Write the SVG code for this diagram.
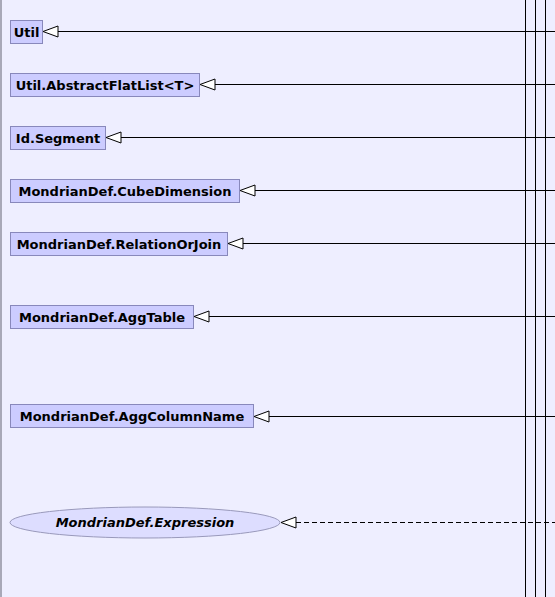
<svg xmlns="http://www.w3.org/2000/svg" width="555" height="597" viewBox="0 0 555 597">
<style>
.bg{fill:#EEEEFF}
.cls rect{fill:#CCCCFF;stroke:#8888BB;stroke-width:1}
.cls ellipse{fill:#DDDDFF;stroke:#9999BB;stroke-width:1}
.cls text{font-family:"DejaVu Sans",sans-serif;font-size:13px;font-weight:bold;fill:#000;text-anchor:middle}
.cls text.i{font-style:italic}
#edges line{stroke:#000;stroke-width:1}
#edges line.d{stroke-dasharray:5,3}
#edges polygon{fill:#FFFFFF;stroke:#000;stroke-width:1}
</style>
<rect class="bg" x="0" y="0" width="555" height="597"/>
<line x1="1" y1="0" x2="1" y2="597" stroke="#A8A8B8" stroke-width="2"/>
<g id="edges">
<line x1="525.5" y1="0" x2="525.5" y2="597"/>
<line x1="535.5" y1="0" x2="535.5" y2="597"/>
<line x1="545.5" y1="0" x2="545.5" y2="597"/>
<line x1="58" y1="31.5" x2="555" y2="31.5"/>
<polygon points="43,31.5 58,26 58,37"/>
<line x1="215" y1="84.5" x2="555" y2="84.5"/>
<polygon points="200,84.5 215,79 215,90"/>
<line x1="121" y1="137.5" x2="555" y2="137.5"/>
<polygon points="106,137.5 121,132 121,143"/>
<line x1="255" y1="190.5" x2="555" y2="190.5"/>
<polygon points="240,190.5 255,185 255,196"/>
<line x1="243" y1="243.5" x2="555" y2="243.5"/>
<polygon points="228,243.5 243,238 243,249"/>
<line x1="209" y1="316.5" x2="555" y2="316.5"/>
<polygon points="194,316.5 209,311 209,322"/>
<line x1="269" y1="416.5" x2="555" y2="416.5"/>
<polygon points="254,416.5 269,411 269,422"/>
<line class="d" x1="296" y1="522.5" x2="555" y2="522.5"/>
<polygon points="281,522.5 296,517 296,528"/>
</g>
<g id="n_util" class="cls"><rect x="10.5" y="20.5" width="32" height="23"/><text x="26.5" y="36.5">Util</text></g>
<g id="n_flatlist" class="cls"><rect x="10.5" y="73.5" width="189" height="23"/><text x="105" y="89.5">Util.AbstractFlatList&lt;T&gt;</text></g>
<g id="n_segment" class="cls"><rect x="10.5" y="126.5" width="95" height="23"/><text x="58" y="142.5">Id.Segment</text></g>
<g id="n_cubedim" class="cls"><rect x="10.5" y="179.5" width="229" height="23"/><text x="125" y="195.5">MondrianDef.CubeDimension</text></g>
<g id="n_relorjoin" class="cls"><rect x="10.5" y="232.5" width="217" height="23"/><text x="119" y="248.5">MondrianDef.RelationOrJoin</text></g>
<g id="n_aggtable" class="cls"><rect x="10.5" y="305.5" width="183" height="23"/><text x="102" y="321.5">MondrianDef.AggTable</text></g>
<g id="n_aggcol" class="cls"><rect x="10.5" y="404.5" width="243" height="23"/><text x="132" y="420.5">MondrianDef.AggColumnName</text></g>
<g id="n_expr" class="cls"><ellipse cx="145" cy="522.5" rx="135" ry="15.5"/><text class="i" x="145" y="527">MondrianDef.Expression</text></g>
</svg>
